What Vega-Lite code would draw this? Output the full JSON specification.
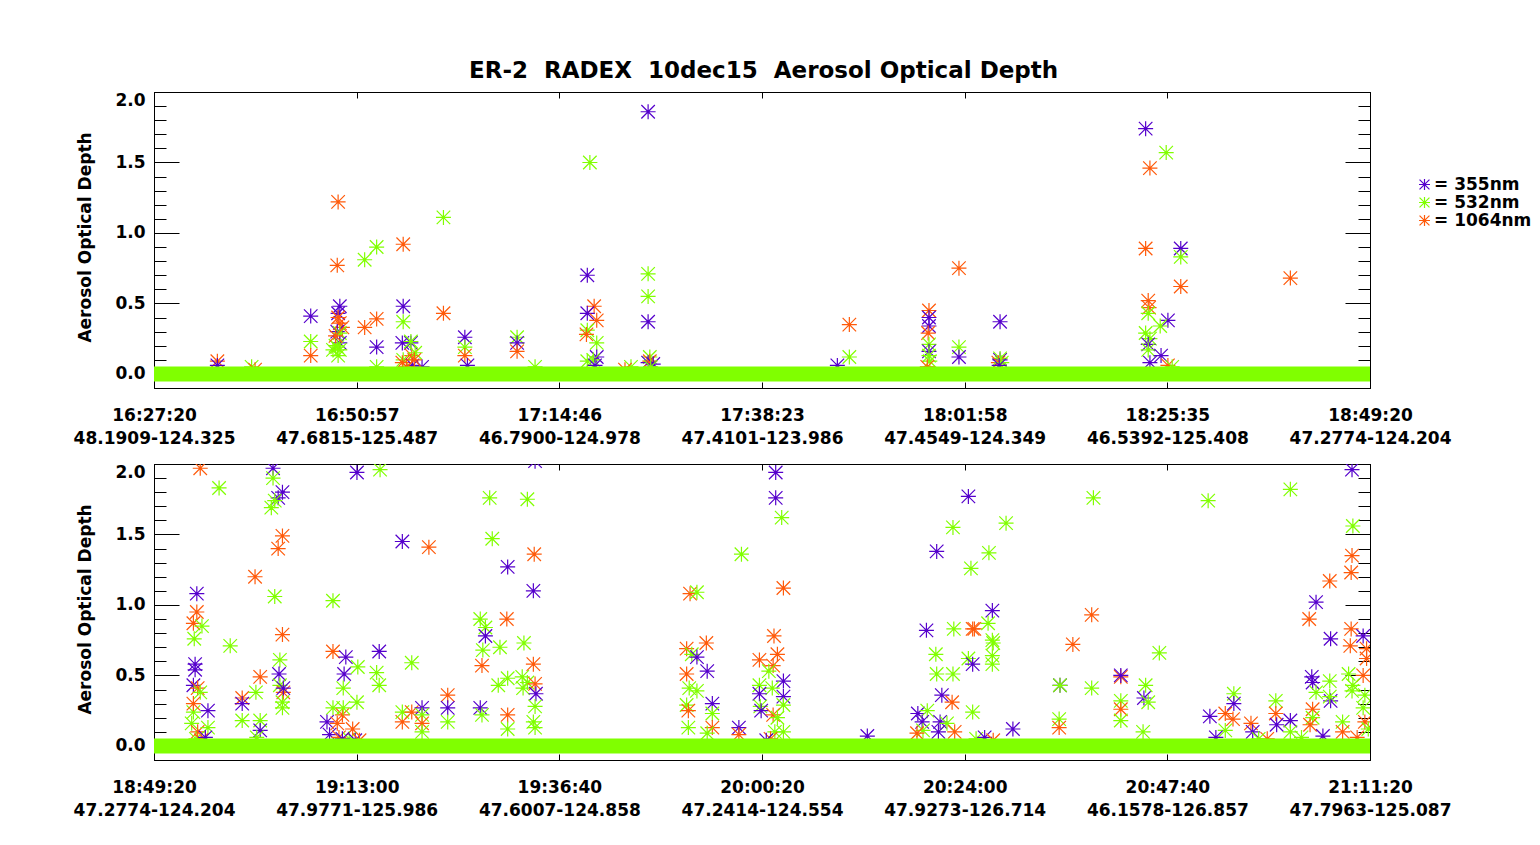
{
  "$schema": "https://vega.github.io/schema/vega-lite/v6.json",
  "autosize": {"type": "none"},
  "padding": {"left": 154, "top": 92, "right": 1386, "bottom": 753},
  "background": "white",
  "bounds": "flush",
  "spacing": 76,
  "title": {
    "text": "ER-2\u00a0\u00a0RADEX\u00a0\u00a010dec15\u00a0\u00a0Aerosol Optical Depth",
    "font": "DejaVu Sans",
    "fontSize": 23,
    "fontWeight": "bold",
    "color": "black",
    "anchor": "start",
    "frame": "group",
    "dx": 315,
    "baseline": "alphabetic",
    "offset": -10
  },
  "config": {
    "view": {"stroke": "black", "strokeWidth": 1},
    "axis": {
      "domainColor": "black",
      "tickColor": "black",
      "labelColor": "black",
      "labelFont": "DejaVu Sans",
      "labelFontWeight": "bold",
      "labelFontSize": 17,
      "grid": false,
      "tickWidth": 1,
      "domainWidth": 1,
      "labelOverlap": false
    }
  },
  "datasets": {
    "top": [
      {"t": 7.4, "aod": 0.09, "band": "1064nm"}, {"t": 7.4, "aod": 0.06, "band": "355nm"}, {"t": 11.4, "aod": 0.05, "band": "532nm"}, {"t": 11.8, "aod": 0.03, "band": "1064nm"},
      {"t": 18.3, "aod": 0.41, "band": "355nm"}, {"t": 18.3, "aod": 0.23, "band": "532nm"}, {"t": 18.3, "aod": 0.13, "band": "1064nm"},
      {"t": 21.5, "aod": 1.22, "band": "1064nm"}, {"t": 21.4, "aod": 0.77, "band": "1064nm"}, {"t": 21.7, "aod": 0.48, "band": "355nm"}, {"t": 21.5, "aod": 0.43, "band": "355nm"},
      {"t": 21.5, "aod": 0.40, "band": "1064nm"}, {"t": 21.7, "aod": 0.36, "band": "1064nm"}, {"t": 22.0, "aod": 0.33, "band": "1064nm"}, {"t": 21.4, "aod": 0.30, "band": "355nm"},
      {"t": 21.7, "aod": 0.29, "band": "532nm"}, {"t": 21.7, "aod": 0.22, "band": "355nm"}, {"t": 21.4, "aod": 0.19, "band": "532nm"}, {"t": 21.7, "aod": 0.17, "band": "532nm"},
      {"t": 20.9, "aod": 0.17, "band": "532nm"}, {"t": 21.5, "aod": 0.13, "band": "532nm"}, {"t": 21.2, "aod": 0.20, "band": "532nm"}, {"t": 21.2, "aod": 0.27, "band": "1064nm"},
      {"t": 24.6, "aod": 0.81, "band": "532nm"}, {"t": 26.0, "aod": 0.90, "band": "532nm"}, {"t": 24.6, "aod": 0.33, "band": "1064nm"}, {"t": 26.0, "aod": 0.39, "band": "1064nm"},
      {"t": 26.0, "aod": 0.19, "band": "355nm"}, {"t": 26.0, "aod": 0.05, "band": "532nm"},
      {"t": 29.1, "aod": 0.92, "band": "1064nm"}, {"t": 29.1, "aod": 0.48, "band": "355nm"}, {"t": 29.1, "aod": 0.37, "band": "532nm"}, {"t": 29.0, "aod": 0.22, "band": "355nm"},
      {"t": 30.0, "aod": 0.22, "band": "355nm"}, {"t": 30.0, "aod": 0.23, "band": "532nm"}, {"t": 30.1, "aod": 0.13, "band": "1064nm"}, {"t": 29.1, "aod": 0.10, "band": "532nm"},
      {"t": 29.0, "aod": 0.08, "band": "1064nm"}, {"t": 30.2, "aod": 0.06, "band": "355nm"}, {"t": 29.5, "aod": 0.05, "band": "1064nm"}, {"t": 31.3, "aod": 0.05, "band": "355nm"},
      {"t": 30.5, "aod": 0.15, "band": "532nm"}, {"t": 30.4, "aod": 0.10, "band": "1064nm"},
      {"t": 33.8, "aod": 1.11, "band": "532nm"}, {"t": 33.8, "aod": 0.43, "band": "1064nm"},
      {"t": 36.3, "aod": 0.26, "band": "355nm"}, {"t": 36.3, "aod": 0.19, "band": "532nm"}, {"t": 36.3, "aod": 0.13, "band": "1064nm"}, {"t": 36.6, "aod": 0.06, "band": "355nm"},
      {"t": 42.4, "aod": 0.26, "band": "532nm"}, {"t": 42.4, "aod": 0.22, "band": "355nm"}, {"t": 42.4, "aod": 0.16, "band": "1064nm"}, {"t": 44.5, "aod": 0.05, "band": "532nm"},
      {"t": 57.7, "aod": 1.86, "band": "355nm"}, {"t": 50.9, "aod": 1.50, "band": "532nm"}, {"t": 50.6, "aod": 0.70, "band": "355nm"}, {"t": 57.7, "aod": 0.71, "band": "532nm"},
      {"t": 57.7, "aod": 0.55, "band": "532nm"}, {"t": 57.7, "aod": 0.37, "band": "355nm"}, {"t": 51.4, "aod": 0.48, "band": "1064nm"}, {"t": 50.6, "aod": 0.43, "band": "355nm"},
      {"t": 51.7, "aod": 0.38, "band": "1064nm"}, {"t": 50.6, "aod": 0.31, "band": "532nm"}, {"t": 50.5, "aod": 0.28, "band": "1064nm"}, {"t": 51.7, "aod": 0.22, "band": "532nm"},
      {"t": 51.7, "aod": 0.12, "band": "355nm"}, {"t": 50.6, "aod": 0.09, "band": "532nm"}, {"t": 51.3, "aod": 0.10, "band": "532nm"}, {"t": 51.5, "aod": 0.06, "band": "355nm"},
      {"t": 55.7, "aod": 0.05, "band": "532nm"}, {"t": 57.9, "aod": 0.12, "band": "532nm"}, {"t": 57.7, "aod": 0.08, "band": "355nm"}, {"t": 57.9, "aod": 0.09, "band": "1064nm"},
      {"t": 58.3, "aod": 0.07, "band": "355nm"}, {"t": 55.0, "aod": 0.03, "band": "1064nm"}, {"t": 58.0, "aod": 0.05, "band": "532nm"},
      {"t": 81.2, "aod": 0.35, "band": "1064nm"}, {"t": 81.2, "aod": 0.12, "band": "532nm"}, {"t": 79.8, "aod": 0.06, "band": "355nm"},
      {"t": 90.5, "aod": 0.45, "band": "1064nm"}, {"t": 90.5, "aod": 0.40, "band": "355nm"}, {"t": 90.5, "aod": 0.34, "band": "355nm"}, {"t": 90.4, "aod": 0.29, "band": "1064nm"},
      {"t": 90.5, "aod": 0.21, "band": "532nm"}, {"t": 90.5, "aod": 0.16, "band": "355nm"}, {"t": 90.5, "aod": 0.13, "band": "532nm"}, {"t": 90.6, "aod": 0.09, "band": "532nm"},
      {"t": 90.3, "aod": 0.05, "band": "1064nm"},
      {"t": 94.0, "aod": 0.75, "band": "1064nm"}, {"t": 94.0, "aod": 0.19, "band": "532nm"}, {"t": 94.0, "aod": 0.12, "band": "355nm"},
      {"t": 98.8, "aod": 0.37, "band": "355nm"}, {"t": 98.8, "aod": 0.10, "band": "355nm"}, {"t": 98.8, "aod": 0.11, "band": "532nm"}, {"t": 98.6, "aod": 0.08, "band": "1064nm"},
      {"t": 99.0, "aod": 0.08, "band": "532nm"}, {"t": 98.7, "aod": 0.06, "band": "355nm"},
      {"t": 115.8, "aod": 1.74, "band": "355nm"}, {"t": 118.2, "aod": 1.57, "band": "532nm"}, {"t": 116.3, "aod": 1.46, "band": "1064nm"}, {"t": 115.8, "aod": 0.89, "band": "1064nm"},
      {"t": 119.9, "aod": 0.89, "band": "355nm"}, {"t": 119.9, "aod": 0.83, "band": "532nm"}, {"t": 119.9, "aod": 0.62, "band": "1064nm"}, {"t": 116.1, "aod": 0.52, "band": "1064nm"},
      {"t": 116.2, "aod": 0.47, "band": "1064nm"}, {"t": 116.1, "aod": 0.43, "band": "532nm"}, {"t": 118.4, "aod": 0.38, "band": "355nm"}, {"t": 117.5, "aod": 0.34, "band": "532nm"},
      {"t": 115.8, "aod": 0.29, "band": "532nm"}, {"t": 116.3, "aod": 0.25, "band": "532nm"}, {"t": 116.1, "aod": 0.21, "band": "355nm"}, {"t": 116.1, "aod": 0.17, "band": "532nm"},
      {"t": 117.6, "aod": 0.13, "band": "355nm"}, {"t": 116.3, "aod": 0.08, "band": "355nm"}, {"t": 118.4, "aod": 0.06, "band": "1064nm"}, {"t": 118.9, "aod": 0.05, "band": "532nm"},
      {"t": 132.7, "aod": 0.68, "band": "1064nm"}
    ],
    "bottom": [
      {"t": 5.4, "aod": 1.97, "band": "1064nm"}, {"t": 7.6, "aod": 1.83, "band": "532nm"}, {"t": 13.9, "aod": 1.97, "band": "355nm"}, {"t": 13.9, "aod": 1.90, "band": "532nm"},
      {"t": 15.0, "aod": 1.80, "band": "355nm"}, {"t": 14.5, "aod": 1.76, "band": "355nm"}, {"t": 14.1, "aod": 1.74, "band": "532nm"}, {"t": 13.7, "aod": 1.69, "band": "532nm"},
      {"t": 15.0, "aod": 1.49, "band": "1064nm"}, {"t": 14.5, "aod": 1.40, "band": "1064nm"},
      {"t": 23.7, "aod": 1.94, "band": "355nm"}, {"t": 26.4, "aod": 1.96, "band": "532nm"}, {"t": 44.5, "aod": 2.02, "band": "355nm"}, {"t": 39.2, "aod": 1.76, "band": "532nm"},
      {"t": 43.6, "aod": 1.75, "band": "532nm"}, {"t": 39.5, "aod": 1.47, "band": "532nm"}, {"t": 29.0, "aod": 1.45, "band": "355nm"}, {"t": 32.1, "aod": 1.41, "band": "1064nm"},
      {"t": 44.4, "aod": 1.36, "band": "1064nm"}, {"t": 41.3, "aod": 1.27, "band": "355nm"}, {"t": 44.3, "aod": 1.10, "band": "355nm"}, {"t": 5.0, "aod": 1.08, "band": "355nm"},
      {"t": 11.8, "aod": 1.20, "band": "1064nm"}, {"t": 14.1, "aod": 1.06, "band": "532nm"}, {"t": 20.9, "aod": 1.03, "band": "532nm"},
      {"t": 5.0, "aod": 0.95, "band": "1064nm"}, {"t": 4.6, "aod": 0.87, "band": "1064nm"}, {"t": 5.6, "aod": 0.85, "band": "532nm"}, {"t": 4.7, "aod": 0.76, "band": "532nm"},
      {"t": 8.9, "aod": 0.71, "band": "532nm"}, {"t": 15.0, "aod": 0.79, "band": "1064nm"}, {"t": 4.8, "aod": 0.58, "band": "355nm"}, {"t": 4.8, "aod": 0.54, "band": "355nm"},
      {"t": 4.6, "aod": 0.43, "band": "355nm"}, {"t": 5.1, "aod": 0.41, "band": "1064nm"}, {"t": 5.4, "aod": 0.38, "band": "532nm"}, {"t": 4.6, "aod": 0.24, "band": "532nm"},
      {"t": 4.6, "aod": 0.30, "band": "1064nm"}, {"t": 4.4, "aod": 0.16, "band": "532nm"}, {"t": 5.1, "aod": 0.10, "band": "1064nm"}, {"t": 6.3, "aod": 0.25, "band": "355nm"},
      {"t": 6.3, "aod": 0.13, "band": "532nm"},
      {"t": 10.3, "aod": 0.34, "band": "1064nm"}, {"t": 10.3, "aod": 0.30, "band": "355nm"}, {"t": 10.3, "aod": 0.18, "band": "532nm"}, {"t": 11.9, "aod": 0.38, "band": "532nm"},
      {"t": 12.4, "aod": 0.49, "band": "1064nm"}, {"t": 12.4, "aod": 0.18, "band": "532nm"}, {"t": 12.4, "aod": 0.11, "band": "355nm"},
      {"t": 14.7, "aod": 0.61, "band": "532nm"}, {"t": 14.6, "aod": 0.51, "band": "355nm"}, {"t": 14.7, "aod": 0.43, "band": "532nm"}, {"t": 15.1, "aod": 0.38, "band": "1064nm"},
      {"t": 15.0, "aod": 0.31, "band": "532nm"}, {"t": 15.0, "aod": 0.27, "band": "532nm"}, {"t": 15.1, "aod": 0.41, "band": "355nm"},
      {"t": 20.9, "aod": 0.67, "band": "1064nm"}, {"t": 22.4, "aod": 0.63, "band": "355nm"}, {"t": 22.2, "aod": 0.51, "band": "355nm"}, {"t": 23.8, "aod": 0.56, "band": "532nm"},
      {"t": 22.1, "aod": 0.41, "band": "532nm"}, {"t": 20.9, "aod": 0.27, "band": "532nm"}, {"t": 23.7, "aod": 0.31, "band": "532nm"}, {"t": 22.0, "aod": 0.22, "band": "1064nm"},
      {"t": 23.2, "aod": 0.12, "band": "1064nm"}, {"t": 20.2, "aod": 0.17, "band": "355nm"}, {"t": 22.1, "aod": 0.27, "band": "532nm"}, {"t": 21.4, "aod": 0.16, "band": "1064nm"},
      {"t": 26.3, "aod": 0.67, "band": "355nm"}, {"t": 26.0, "aod": 0.52, "band": "532nm"}, {"t": 26.3, "aod": 0.43, "band": "532nm"},
      {"t": 30.1, "aod": 0.59, "band": "532nm"}, {"t": 29.0, "aod": 0.17, "band": "1064nm"}, {"t": 29.0, "aod": 0.24, "band": "532nm"}, {"t": 30.1, "aod": 0.24, "band": "1064nm"},
      {"t": 31.3, "aod": 0.27, "band": "355nm"}, {"t": 31.3, "aod": 0.22, "band": "532nm"}, {"t": 31.3, "aod": 0.16, "band": "1064nm"}, {"t": 31.3, "aod": 0.10, "band": "532nm"},
      {"t": 34.3, "aod": 0.36, "band": "1064nm"}, {"t": 34.3, "aod": 0.27, "band": "355nm"}, {"t": 34.3, "aod": 0.17, "band": "532nm"},
      {"t": 38.1, "aod": 0.90, "band": "532nm"}, {"t": 38.7, "aod": 0.84, "band": "532nm"}, {"t": 38.7, "aod": 0.78, "band": "355nm"}, {"t": 38.4, "aod": 0.68, "band": "532nm"},
      {"t": 38.3, "aod": 0.57, "band": "1064nm"}, {"t": 40.4, "aod": 0.70, "band": "532nm"}, {"t": 41.2, "aod": 0.90, "band": "1064nm"}, {"t": 43.2, "aod": 0.73, "band": "532nm"},
      {"t": 44.3, "aod": 0.58, "band": "1064nm"}, {"t": 40.2, "aod": 0.43, "band": "532nm"}, {"t": 41.3, "aod": 0.48, "band": "532nm"}, {"t": 43.0, "aod": 0.49, "band": "532nm"},
      {"t": 43.6, "aod": 0.45, "band": "532nm"}, {"t": 43.1, "aod": 0.41, "band": "532nm"}, {"t": 44.5, "aod": 0.44, "band": "1064nm"}, {"t": 44.6, "aod": 0.37, "band": "355nm"},
      {"t": 44.5, "aod": 0.28, "band": "532nm"}, {"t": 38.1, "aod": 0.27, "band": "355nm"}, {"t": 38.3, "aod": 0.22, "band": "532nm"}, {"t": 41.3, "aod": 0.22, "band": "1064nm"},
      {"t": 41.3, "aod": 0.12, "band": "532nm"}, {"t": 44.3, "aod": 0.17, "band": "532nm"}, {"t": 44.5, "aod": 0.13, "band": "532nm"},
      {"t": 20.5, "aod": 0.08, "band": "355nm"}, {"t": 21.6, "aod": 0.06, "band": "1064nm"}, {"t": 22.8, "aod": 0.05, "band": "532nm"}, {"t": 23.5, "aod": 0.04, "band": "355nm"},
      {"t": 4.9, "aod": 0.05, "band": "532nm"}, {"t": 5.5, "aod": 0.04, "band": "1064nm"}, {"t": 6.0, "aod": 0.06, "band": "355nm"}, {"t": 12.0, "aod": 0.06, "band": "532nm"},
      {"t": 22.0, "aod": 0.05, "band": "355nm"}, {"t": 24.0, "aod": 0.04, "band": "1064nm"},
      {"t": 62.6, "aod": 1.08, "band": "1064nm"}, {"t": 63.4, "aod": 1.09, "band": "532nm"},
      {"t": 72.6, "aod": 1.94, "band": "355nm"}, {"t": 72.6, "aod": 1.76, "band": "355nm"}, {"t": 73.3, "aod": 1.62, "band": "532nm"}, {"t": 68.6, "aod": 1.36, "band": "532nm"},
      {"t": 73.5, "aod": 1.12, "band": "1064nm"},
      {"t": 72.4, "aod": 0.78, "band": "1064nm"}, {"t": 62.2, "aod": 0.69, "band": "1064nm"}, {"t": 64.5, "aod": 0.73, "band": "1064nm"}, {"t": 62.8, "aod": 0.65, "band": "532nm"},
      {"t": 63.4, "aod": 0.63, "band": "355nm"}, {"t": 62.2, "aod": 0.51, "band": "1064nm"}, {"t": 64.6, "aod": 0.53, "band": "355nm"}, {"t": 62.5, "aod": 0.41, "band": "532nm"},
      {"t": 63.4, "aod": 0.39, "band": "532nm"}, {"t": 62.2, "aod": 0.29, "band": "532nm"}, {"t": 62.4, "aod": 0.25, "band": "1064nm"}, {"t": 65.2, "aod": 0.30, "band": "355nm"},
      {"t": 65.2, "aod": 0.23, "band": "532nm"}, {"t": 65.2, "aod": 0.13, "band": "1064nm"}, {"t": 62.4, "aod": 0.13, "band": "532nm"}, {"t": 64.6, "aod": 0.09, "band": "532nm"},
      {"t": 68.3, "aod": 0.13, "band": "355nm"}, {"t": 68.3, "aod": 0.08, "band": "1064nm"},
      {"t": 70.7, "aod": 0.61, "band": "1064nm"}, {"t": 72.8, "aod": 0.65, "band": "1064nm"}, {"t": 72.3, "aod": 0.57, "band": "1064nm"}, {"t": 71.8, "aod": 0.53, "band": "532nm"},
      {"t": 73.5, "aod": 0.46, "band": "355nm"}, {"t": 70.7, "aod": 0.43, "band": "532nm"}, {"t": 72.2, "aod": 0.41, "band": "532nm"}, {"t": 70.7, "aod": 0.37, "band": "355nm"},
      {"t": 73.5, "aod": 0.35, "band": "355nm"}, {"t": 70.8, "aod": 0.28, "band": "532nm"}, {"t": 70.9, "aod": 0.25, "band": "355nm"}, {"t": 73.5, "aod": 0.29, "band": "532nm"},
      {"t": 72.3, "aod": 0.22, "band": "1064nm"}, {"t": 72.8, "aod": 0.20, "band": "532nm"}, {"t": 72.5, "aod": 0.10, "band": "532nm"}, {"t": 73.5, "aod": 0.10, "band": "532nm"},
      {"t": 83.3, "aod": 0.07, "band": "355nm"}, {"t": 72.0, "aod": 0.05, "band": "1064nm"}, {"t": 71.5, "aod": 0.04, "band": "355nm"},
      {"t": 95.1, "aod": 1.77, "band": "355nm"}, {"t": 93.3, "aod": 1.55, "band": "532nm"}, {"t": 91.4, "aod": 1.38, "band": "355nm"}, {"t": 95.4, "aod": 1.26, "band": "532nm"},
      {"t": 90.2, "aod": 0.82, "band": "355nm"}, {"t": 93.4, "aod": 0.83, "band": "532nm"}, {"t": 95.6, "aod": 0.83, "band": "1064nm"}, {"t": 91.3, "aod": 0.65, "band": "532nm"},
      {"t": 95.1, "aod": 0.62, "band": "532nm"}, {"t": 95.6, "aod": 0.58, "band": "355nm"}, {"t": 91.4, "aod": 0.51, "band": "532nm"}, {"t": 93.3, "aod": 0.51, "band": "532nm"},
      {"t": 92.0, "aod": 0.36, "band": "355nm"}, {"t": 93.2, "aod": 0.31, "band": "1064nm"}, {"t": 95.6, "aod": 0.24, "band": "532nm"}, {"t": 89.2, "aod": 0.23, "band": "355nm"},
      {"t": 90.3, "aod": 0.25, "band": "532nm"}, {"t": 89.7, "aod": 0.17, "band": "355nm"}, {"t": 89.8, "aod": 0.11, "band": "532nm"}, {"t": 89.1, "aod": 0.09, "band": "1064nm"},
      {"t": 91.8, "aod": 0.17, "band": "355nm"}, {"t": 92.6, "aod": 0.16, "band": "532nm"}, {"t": 93.5, "aod": 0.10, "band": "1064nm"}, {"t": 91.6, "aod": 0.10, "band": "355nm"},
      {"t": 99.5, "aod": 1.58, "band": "532nm"}, {"t": 97.5, "aod": 1.37, "band": "532nm"}, {"t": 109.7, "aod": 1.76, "band": "532nm"}, {"t": 123.1, "aod": 1.74, "band": "532nm"},
      {"t": 132.7, "aod": 1.82, "band": "532nm"}, {"t": 139.9, "aod": 1.96, "band": "355nm"}, {"t": 140.0, "aod": 1.56, "band": "532nm"}, {"t": 139.9, "aod": 1.35, "band": "1064nm"},
      {"t": 139.8, "aod": 1.23, "band": "1064nm"}, {"t": 137.3, "aod": 1.17, "band": "1064nm"}, {"t": 135.7, "aod": 1.02, "band": "355nm"}, {"t": 134.9, "aod": 0.90, "band": "1064nm"},
      {"t": 137.4, "aod": 0.76, "band": "355nm"}, {"t": 139.8, "aod": 0.83, "band": "1064nm"}, {"t": 141.2, "aod": 0.78, "band": "355nm"}, {"t": 139.7, "aod": 0.71, "band": "1064nm"},
      {"t": 141.6, "aod": 0.69, "band": "1064nm"}, {"t": 141.6, "aod": 0.62, "band": "1064nm"}, {"t": 141.2, "aod": 0.50, "band": "1064nm"}, {"t": 139.5, "aod": 0.51, "band": "532nm"},
      {"t": 139.9, "aod": 0.39, "band": "532nm"},
      {"t": 97.9, "aod": 0.96, "band": "355nm"}, {"t": 95.8, "aod": 0.83, "band": "1064nm"}, {"t": 97.4, "aod": 0.87, "band": "532nm"}, {"t": 97.9, "aod": 0.75, "band": "532nm"},
      {"t": 98.0, "aod": 0.73, "band": "532nm"}, {"t": 97.9, "aod": 0.64, "band": "532nm"}, {"t": 97.9, "aod": 0.58, "band": "532nm"},
      {"t": 109.5, "aod": 0.93, "band": "1064nm"}, {"t": 107.3, "aod": 0.72, "band": "1064nm"}, {"t": 117.4, "aod": 0.66, "band": "532nm"}, {"t": 105.8, "aod": 0.43, "band": "355nm"},
      {"t": 105.8, "aod": 0.43, "band": "532nm"}, {"t": 109.5, "aod": 0.41, "band": "532nm"}, {"t": 112.9, "aod": 0.49, "band": "1064nm"}, {"t": 112.9, "aod": 0.50, "band": "355nm"},
      {"t": 115.8, "aod": 0.43, "band": "532nm"}, {"t": 115.6, "aod": 0.34, "band": "355nm"}, {"t": 116.1, "aod": 0.31, "band": "532nm"}, {"t": 112.9, "aod": 0.32, "band": "532nm"},
      {"t": 112.9, "aod": 0.26, "band": "1064nm"}, {"t": 112.9, "aod": 0.18, "band": "532nm"}, {"t": 100.3, "aod": 0.12, "band": "355nm"}, {"t": 105.7, "aod": 0.19, "band": "532nm"},
      {"t": 105.7, "aod": 0.13, "band": "1064nm"}, {"t": 115.5, "aod": 0.10, "band": "532nm"},
      {"t": 123.3, "aod": 0.21, "band": "355nm"}, {"t": 125.1, "aod": 0.23, "band": "1064nm"}, {"t": 126.0, "aod": 0.19, "band": "1064nm"}, {"t": 126.1, "aod": 0.37, "band": "532nm"},
      {"t": 126.1, "aod": 0.30, "band": "355nm"}, {"t": 125.1, "aod": 0.11, "band": "532nm"}, {"t": 128.1, "aod": 0.16, "band": "1064nm"}, {"t": 128.3, "aod": 0.10, "band": "355nm"},
      {"t": 131.0, "aod": 0.32, "band": "532nm"}, {"t": 131.0, "aod": 0.23, "band": "1064nm"}, {"t": 131.1, "aod": 0.15, "band": "355nm"}, {"t": 132.7, "aod": 0.18, "band": "355nm"},
      {"t": 132.7, "aod": 0.10, "band": "532nm"}, {"t": 135.2, "aod": 0.49, "band": "355nm"}, {"t": 135.3, "aod": 0.45, "band": "355nm"}, {"t": 135.7, "aod": 0.38, "band": "532nm"},
      {"t": 137.3, "aod": 0.46, "band": "532nm"}, {"t": 137.4, "aod": 0.32, "band": "355nm"}, {"t": 137.3, "aod": 0.35, "band": "532nm"}, {"t": 135.3, "aod": 0.26, "band": "1064nm"},
      {"t": 135.3, "aod": 0.20, "band": "532nm"}, {"t": 135.0, "aod": 0.15, "band": "1064nm"}, {"t": 138.8, "aod": 0.17, "band": "532nm"}, {"t": 138.8, "aod": 0.10, "band": "1064nm"},
      {"t": 141.2, "aod": 0.27, "band": "532nm"}, {"t": 141.4, "aod": 0.36, "band": "532nm"}, {"t": 141.4, "aod": 0.17, "band": "1064nm"}, {"t": 141.8, "aod": 0.12, "band": "532nm"},
      {"t": 140.0, "aod": 0.43, "band": "532nm"},
      {"t": 96.0, "aod": 0.05, "band": "532nm"}, {"t": 97.0, "aod": 0.06, "band": "355nm"}, {"t": 98.0, "aod": 0.04, "band": "1064nm"}, {"t": 124.0, "aod": 0.06, "band": "355nm"},
      {"t": 130.0, "aod": 0.05, "band": "1064nm"}, {"t": 134.0, "aod": 0.06, "band": "532nm"}, {"t": 136.5, "aod": 0.07, "band": "355nm"}, {"t": 140.5, "aod": 0.06, "band": "1064nm"},
      {"t": 129.0, "aod": 0.05, "band": "532nm"}
    ]
  },
  "vconcat": [
    {
      "width": 1216,
      "height": 296,
      "data": {"name": "top"},
      "layer": [
        {
          "mark": {"type": "point", "shape": "M0,-1L0,1M-1,0L1,0M-0.9,-0.9L0.9,0.9M-0.9,0.9L0.9,-0.9", "filled": false, "size": 225, "strokeWidth": 1.2, "opacity": 1, "clip": true},
          "encoding": {
            "x": {"field": "t", "type": "quantitative", "scale": {"domain": [0, 142], "nice": false, "zero": false},
              "axis": {"orient": "top", "values": [0, 23.6667, 47.3333, 71, 94.6667, 118.3333, 142], "labels": false, "tickSize": -6, "title": null}},
            "y": {"field": "aod", "type": "quantitative", "scale": {"domain": [-0.1, 2.0], "nice": false, "zero": false},
              "axis": {"orient": "right", "values": [0, 0.1, 0.2, 0.3, 0.4, 0.5, 0.6, 0.7, 0.8, 0.9, 1.0, 1.1, 1.2, 1.3, 1.4, 1.5, 1.6, 1.7, 1.8, 1.9, 2.0],
                "labels": false, "title": null,
                "tickSize": {"condition": {"test": "abs(datum.value*2 - round(datum.value*2)) < 0.01", "value": -25}, "value": -12}}},
            "color": {"field": "band", "type": "nominal",
              "scale": {"domain": ["355nm", "532nm", "1064nm"], "range": ["#5500cc", "#80ff00", "#ff5a0a"]},
              "legend": {"orient": "none", "legendX": 1262, "legendY": 84, "direction": "vertical", "title": null,
                "symbolType": "M0,-1L0,1M-1,0L1,0M-0.9,-0.9L0.9,0.9M-0.9,0.9L0.9,-0.9", "symbolSize": 121, "symbolStrokeWidth": 1.2,
                "labelFont": "DejaVu Sans", "labelFontWeight": "bold", "labelFontSize": 17, "labelColor": "black",
                "labelExpr": "'= ' + datum.label", "rowPadding": 0, "labelOffset": 1, "labelLimit": 0}}
          }
        },
        {
          "data": {"values": [{"t0": 0, "t1": 142, "y": 0}]},
          "mark": {"type": "rule", "color": "#80ff00", "strokeWidth": 15, "strokeCap": "butt"},
          "encoding": {
            "x": {"field": "t0", "type": "quantitative", "scale": {"domain": [0, 142], "nice": false, "zero": false},
              "axis": {"orient": "bottom", "values": [0, 23.6667, 47.3333, 71, 94.6667, 118.3333, 142], "tickSize": -6, "title": null,
                "labelPadding": 25, "labelFlush": false, "labelLineHeight": 23,
                "labelExpr": "[['16:27:20','48.1909-124.325'],['16:50:57','47.6815-125.487'],['17:14:46','46.7900-124.978'],['17:38:23','47.4101-123.986'],['18:01:58','47.4549-124.349'],['18:25:35','46.5392-125.408'],['18:49:20','47.2774-124.204']][round(datum.value*6/142)]"}},
            "x2": {"field": "t1"},
            "y": {"field": "y", "type": "quantitative", "scale": {"domain": [-0.1, 2.0], "nice": false, "zero": false},
              "axis": {"orient": "left", "values": [0, 0.1, 0.2, 0.3, 0.4, 0.5, 0.6, 0.7, 0.8, 0.9, 1.0, 1.1, 1.2, 1.3, 1.4, 1.5, 1.6, 1.7, 1.8, 1.9, 2.0],
                "tickSize": {"condition": {"test": "abs(datum.value*2 - round(datum.value*2)) < 0.01", "value": -25}, "value": -12},
                "labelPadding": 34, "labelFlush": true,
                "labelExpr": "abs(datum.value*2 - round(datum.value*2)) < 0.01 ? format(datum.value, '.1f') : ''",
                "title": "Aerosol Optical Depth", "titleFont": "DejaVu Sans", "titleFontWeight": "bold", "titleFontSize": 17, "titleColor": "black",
                "titleAngle": 270, "titleX": -69, "titleY": 145, "titleAlign": "center", "titleBaseline": "middle"}}
          }
        }
      ],
      "resolve": {"axis": {"x": "independent", "y": "independent"}}
    },
    {
      "width": 1216,
      "height": 296,
      "data": {"name": "bottom"},
      "layer": [
        {
          "mark": {"type": "point", "shape": "M0,-1L0,1M-1,0L1,0M-0.9,-0.9L0.9,0.9M-0.9,0.9L0.9,-0.9", "filled": false, "size": 225, "strokeWidth": 1.2, "opacity": 1, "clip": true},
          "encoding": {
            "x": {"field": "t", "type": "quantitative", "scale": {"domain": [0, 142], "nice": false, "zero": false},
              "axis": {"orient": "top", "values": [0, 23.6667, 47.3333, 71, 94.6667, 118.3333, 142], "labels": false, "tickSize": -6, "title": null}},
            "y": {"field": "aod", "type": "quantitative", "scale": {"domain": [-0.1, 2.0], "nice": false, "zero": false},
              "axis": {"orient": "right", "values": [0, 0.1, 0.2, 0.3, 0.4, 0.5, 0.6, 0.7, 0.8, 0.9, 1.0, 1.1, 1.2, 1.3, 1.4, 1.5, 1.6, 1.7, 1.8, 1.9, 2.0],
                "labels": false, "title": null,
                "tickSize": {"condition": {"test": "abs(datum.value*2 - round(datum.value*2)) < 0.01", "value": -25}, "value": -12}}},
            "color": {"field": "band", "type": "nominal",
              "scale": {"domain": ["355nm", "532nm", "1064nm"], "range": ["#5500cc", "#80ff00", "#ff5a0a"]},
              "legend": null}
          }
        },
        {
          "data": {"values": [{"t0": 0, "t1": 142, "y": 0}]},
          "mark": {"type": "rule", "color": "#80ff00", "strokeWidth": 15, "strokeCap": "butt"},
          "encoding": {
            "x": {"field": "t0", "type": "quantitative", "scale": {"domain": [0, 142], "nice": false, "zero": false},
              "axis": {"orient": "bottom", "values": [0, 23.6667, 47.3333, 71, 94.6667, 118.3333, 142], "tickSize": -6, "title": null,
                "labelPadding": 25, "labelFlush": false, "labelLineHeight": 23,
                "labelExpr": "[['18:49:20','47.2774-124.204'],['19:13:00','47.9771-125.986'],['19:36:40','47.6007-124.858'],['20:00:20','47.2414-124.554'],['20:24:00','47.9273-126.714'],['20:47:40','46.1578-126.857'],['21:11:20','47.7963-125.087']][round(datum.value*6/142)]"}},
            "x2": {"field": "t1"},
            "y": {"field": "y", "type": "quantitative", "scale": {"domain": [-0.1, 2.0], "nice": false, "zero": false},
              "axis": {"orient": "left", "values": [0, 0.1, 0.2, 0.3, 0.4, 0.5, 0.6, 0.7, 0.8, 0.9, 1.0, 1.1, 1.2, 1.3, 1.4, 1.5, 1.6, 1.7, 1.8, 1.9, 2.0],
                "tickSize": {"condition": {"test": "abs(datum.value*2 - round(datum.value*2)) < 0.01", "value": -25}, "value": -12},
                "labelPadding": 34, "labelFlush": true,
                "labelExpr": "abs(datum.value*2 - round(datum.value*2)) < 0.01 ? format(datum.value, '.1f') : ''",
                "title": "Aerosol Optical Depth", "titleFont": "DejaVu Sans", "titleFontWeight": "bold", "titleFontSize": 17, "titleColor": "black",
                "titleAngle": 270, "titleX": -69, "titleY": 145, "titleAlign": "center", "titleBaseline": "middle"}}
          }
        }
      ],
      "resolve": {"axis": {"x": "independent", "y": "independent"}}
    }
  ]
}
